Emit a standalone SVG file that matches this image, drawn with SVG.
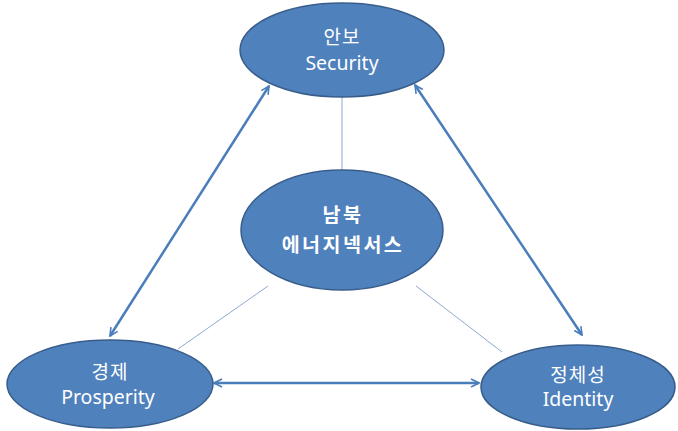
<svg xmlns="http://www.w3.org/2000/svg" width="678" height="431" viewBox="0 0 678 431">
<defs>
<style>
.node{fill:#4F81BD;stroke:#385D8A;stroke-width:1.5}
.t{fill:#ffffff;font-family:"Noto Sans","Noto Sans CJK KR",sans-serif;font-size:19.5px;text-anchor:middle}
.k{fill:#ffffff;font-family:"Noto Sans CJK KR",sans-serif;font-size:19px;text-anchor:middle;letter-spacing:1px}
.tb{fill:#ffffff;font-family:"Noto Sans CJK KR",sans-serif;font-size:19.5px;font-weight:bold;text-anchor:middle;letter-spacing:2.5px}
.thin{stroke:#8EA9CF;stroke-width:1;fill:none}
.thick{stroke:#4A7EBB;stroke-width:2.5;fill:none;marker-start:url(#ah);marker-end:url(#ah)}
</style>
<marker id="ah" viewBox="0 0 10 10" refX="9" refY="5" markerWidth="4" markerHeight="4" orient="auto-start-reverse" markerUnits="strokeWidth">
<path d="M1,1 L9,5 L1,9" fill="none" stroke="#4A7EBB" stroke-width="1.6"/>
</marker>
</defs>
<g id="connectors">
<line class="thin" x1="342" y1="97" x2="342" y2="171"/>
<line class="thin" x1="268" y1="286" x2="178" y2="349"/>
<line class="thin" x1="416" y1="286" x2="502" y2="352"/>
<line class="thick" x1="110" y1="336" x2="269" y2="86"/>
<line class="thick" x1="415" y1="85" x2="582" y2="335"/>
<line class="thick" x1="214" y1="383" x2="479" y2="383"/>
</g>
<g id="security">
<ellipse class="node" cx="342" cy="50" rx="102" ry="47"/>
<text class="k" x="342" y="44">안보</text>
<text class="t" x="342" y="70">Security</text>
</g>
<g id="nexus">
<ellipse class="node" cx="342" cy="230" rx="101" ry="60"/>
<text class="tb" x="343" y="222">남북</text>
<text class="tb" x="343" y="252">에너지넥서스</text>
</g>
<g id="prosperity">
<ellipse class="node" cx="110" cy="384" rx="103" ry="44"/>
<text class="k" x="110" y="379">경제</text>
<text class="t" x="108" y="404">Prosperity</text>
</g>
<g id="identity">
<ellipse class="node" cx="578" cy="387" rx="97" ry="42"/>
<text class="k" x="578" y="382">정체성</text>
<text class="t" x="578" y="406">Identity</text>
</g>
</svg>
